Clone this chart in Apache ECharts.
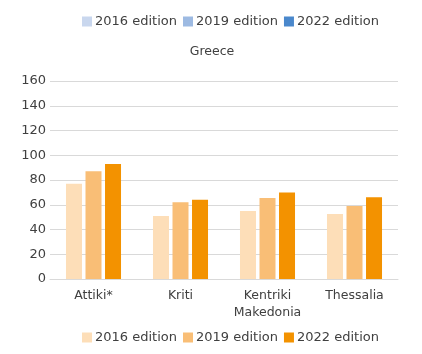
<!DOCTYPE html>
<html>
<head>
<meta charset="utf-8">
<script src="https://cdn.jsdelivr.net/npm/echarts@6/dist/echarts.min.js"></script>
<style>
  html, body { margin: 0; padding: 0; background: #fff; }
  #chart { width: 422px; height: 354px; }
</style>
</head>
<body>
<div id="chart"></div>
<script>
var regions = ['Attiki*', 'Kriti', 'Kentriki\nMakedonia', 'Thessalia'];
var editions = ['2016 edition', '2019 edition', '2022 edition'];
var ed2016 = [77, 51, 55, 52.5];
var ed2019 = [87, 62, 65.5, 59];
var ed2022 = [93, 64, 70, 66];
var yTicks = [0, 20, 40, 60, 80, 100, 120, 140, 160];

var barColors = ['#FDDEB8', '#F9BE76', '#F39200'];
var topColors = ['#C9D7EE', '#9DBAE2', '#4A88CC'];
var font = 'DejaVu Sans';

var chart = echarts.init(document.getElementById('chart'));
var option = {
  animation: false,
  textStyle: { fontFamily: font, color: '#404040' },
  title: {
    text: 'Greece',
    left: 212, top: 45, textAlign: 'center', padding: 0,
    textStyle: { fontSize: 12.5, fontWeight: 'normal', color: '#404040', fontFamily: font }
  },
  legend: [
    {
      top: 15, left: 82, padding: 0,
      itemWidth: 10, itemHeight: 10, itemGap: 6,
      icon: 'rect',
      textStyle: { fontSize: 13, color: '#404040', fontFamily: font, padding: [0, 0, 0, -2] },
      data: editions.map(function (e, i) {
        return { name: e, itemStyle: { color: topColors[i] } };
      })
    },
    {
      top: 331, left: 82, padding: 0,
      itemWidth: 10, itemHeight: 10, itemGap: 6,
      icon: 'rect',
      textStyle: { fontSize: 13, color: '#404040', fontFamily: font, padding: [0, 0, 0, -2] },
      data: editions
    }
  ],
  grid: { left: 50, right: 24, top: 81, bottom: 75 },
  xAxis: {
    type: 'category',
    data: regions,
    axisLine: { lineStyle: { color: '#d9d9d9' } },
    axisTick: { show: false },
    axisLabel: { interval: 0, fontSize: 12.5, color: '#404040', lineHeight: 17, margin: 8, fontFamily: font }
  },
  yAxis: {
    type: 'value',
    min: yTicks[0], max: yTicks[yTicks.length - 1], interval: 20,
    axisLine: { show: false },
    axisTick: { show: false },
    splitLine: { lineStyle: { color: '#d9d9d9' } },
    axisLabel: { fontSize: 13, color: '#404040', margin: 4, fontFamily: font }
  },
  series: [
    { name: editions[0], type: 'bar', data: ed2016, barWidth: 16, barGap: '22%', itemStyle: { color: barColors[0] } },
    { name: editions[1], type: 'bar', data: ed2019, barWidth: 16, barGap: '22%', itemStyle: { color: barColors[1] } },
    { name: editions[2], type: 'bar', data: ed2022, barWidth: 16, barGap: '22%', itemStyle: { color: barColors[2] } }
  ]
};
chart.setOption(option);
</script>
</body>
</html>
